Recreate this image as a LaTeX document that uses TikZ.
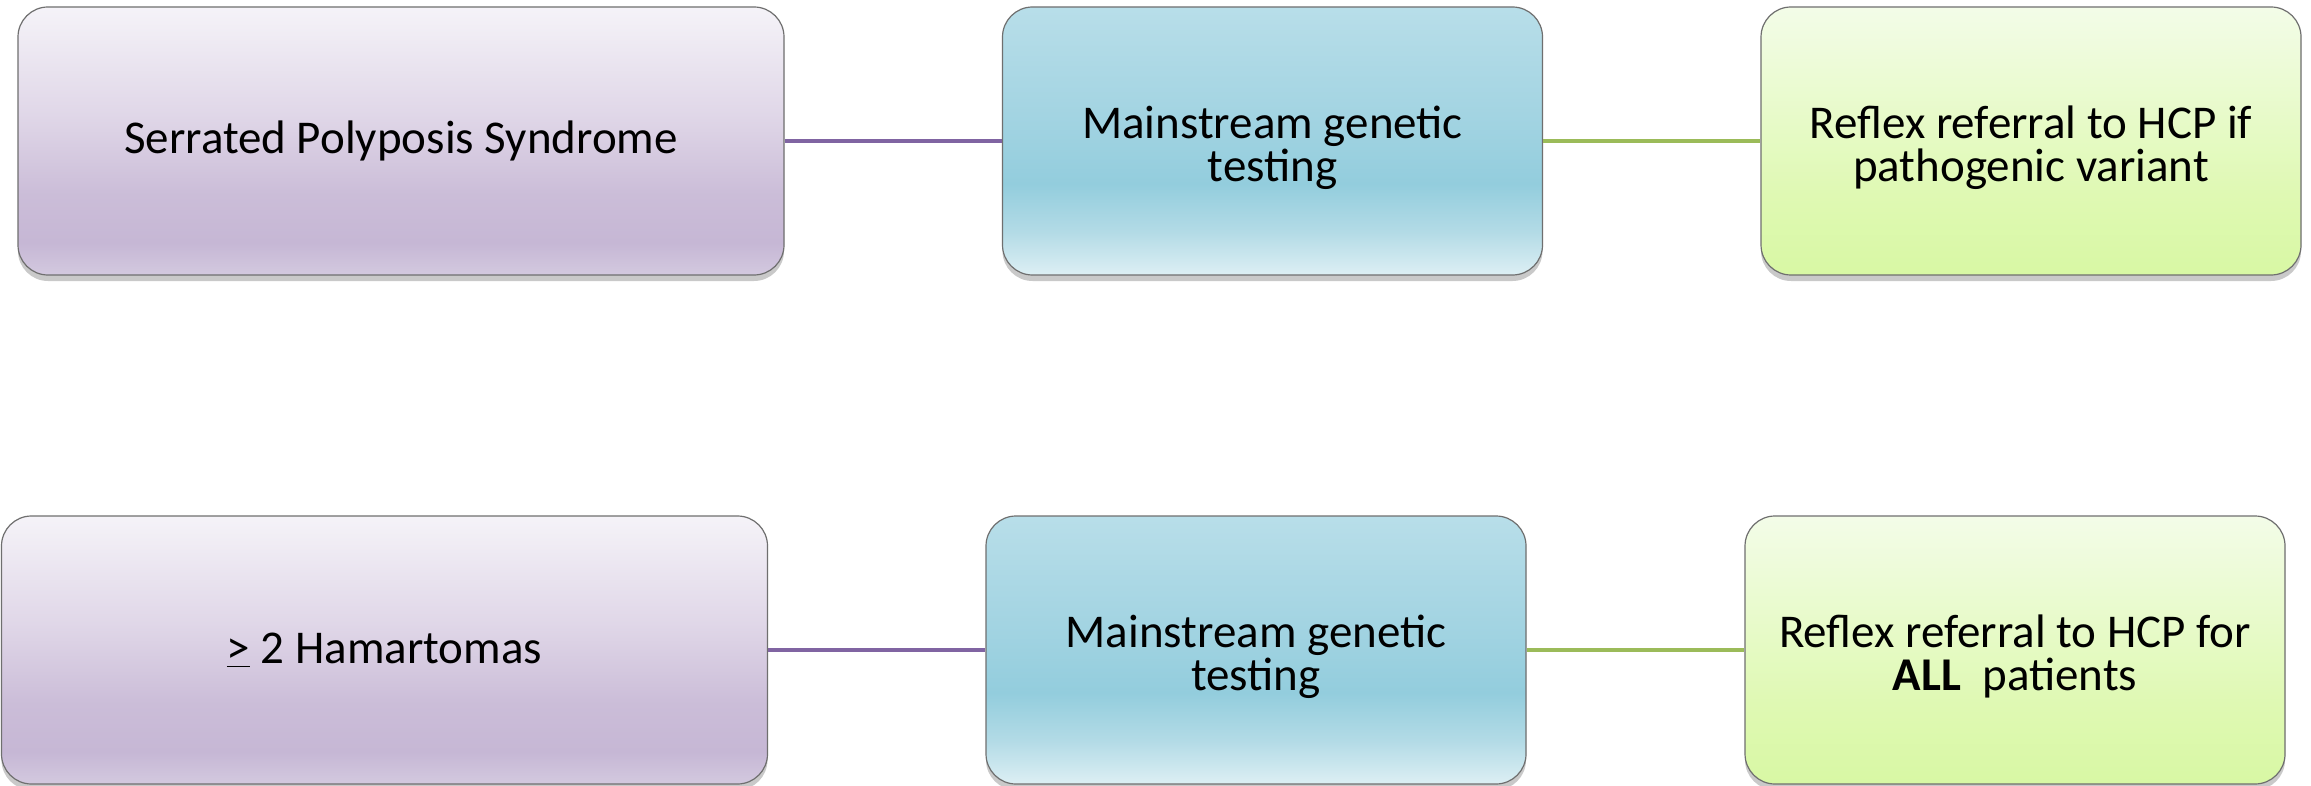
\documentclass[tikz,border=0pt]{standalone}
\usepackage{fontspec}
\setmainfont{Carlito}
\usetikzlibrary{shadows}
\definecolor{pb}{HTML}{D3C9DF}
\definecolor{pc}{HTML}{C6B7D5}
\definecolor{pd}{HTML}{CBBDD8}
\definecolor{pe}{HTML}{E0D7E8}
\definecolor{pt}{HTML}{F5F3F8}
\definecolor{bb}{HTML}{DDEFF4}
\definecolor{bc}{HTML}{B3DBE6}
\definecolor{bd}{HTML}{93CDDD}
\definecolor{be}{HTML}{A3D4E2}
\definecolor{bt}{HTML}{B8DEE9}
\definecolor{gb}{HTML}{D8F8A4}
\definecolor{gc}{HTML}{DFF9B3}
\definecolor{gt}{HTML}{F3FCE8}
\definecolor{purpline}{HTML}{8064A2}
\definecolor{greenline}{HTML}{9BBB59}
\definecolor{boxborder}{HTML}{6F6F6F}
\pgfdeclareverticalshading{purpshade}{100bp}{color(0bp)=(pb); color(25bp)=(pb); color(31bp)=(pc); color(40bp)=(pd); color(55bp)=(pe); color(75bp)=(pt); color(100bp)=(pt)}
\pgfdeclareverticalshading{blueshade}{100bp}{color(0bp)=(bb); color(25bp)=(bb); color(33bp)=(bc); color(42bp)=(bd); color(55bp)=(be); color(75bp)=(bt); color(100bp)=(bt)}
\pgfdeclareverticalshading{greenshade}{100bp}{color(0bp)=(gb); color(25bp)=(gb); color(40bp)=(gc); color(75bp)=(gt); color(100bp)=(gt)}
\newcommand{\firststrut}{\rule{0pt}{23pt}}
\tikzset{
  box/.style={draw=boxborder, line width=0.6pt, rounded corners=15pt, inner sep=0pt,
    minimum height=134pt, align=center, font=\fontsize{23.5}{21.5}\selectfont,
    drop shadow={shadow xshift=0pt, shadow yshift=-3pt, opacity=0.35, fill=black!60}},
  purpbox/.style={box, shading=purpshade, minimum width=383pt},
  bluebox/.style={box, shading=blueshade, minimum width=270pt},
  greenbox/.style={box, shading=greenshade, minimum width=270pt},
  plink/.style={draw=purpline, line width=2.4pt},
  glink/.style={draw=greenline, line width=2.4pt}
}
\begin{document}
\begin{tikzpicture}[x=0.5pt, y=-0.5pt]
\useasboundingbox[fill=white] (0,0) rectangle (2311,786);
\node[purpbox] (a1) at (401,141) {Serrated Polyposis Syndrome};
\node[bluebox] (b1) at (1272.5,141) {\firststrut Mainstream genetic\\testing};
\node[greenbox] (c1) at (2031,141) {\firststrut Reflex referral to HCP if\\pathogenic variant};
\node[purpbox] (a2) at (384.5,650) {\underline{>} 2 Hamartomas};
\node[bluebox] (b2) at (1256,650) {\firststrut Mainstream genetic\\testing};
\node[greenbox] (c2) at (2015,650) {\firststrut Reflex referral to HCP for\\\textbf{ALL}\ \ patients};
\draw[plink] (a1.east) -- (b1.west);
\draw[glink] (b1.east) -- (c1.west);
\draw[plink] (a2.east) -- (b2.west);
\draw[glink] (b2.east) -- (c2.west);
\end{tikzpicture}
\end{document}
